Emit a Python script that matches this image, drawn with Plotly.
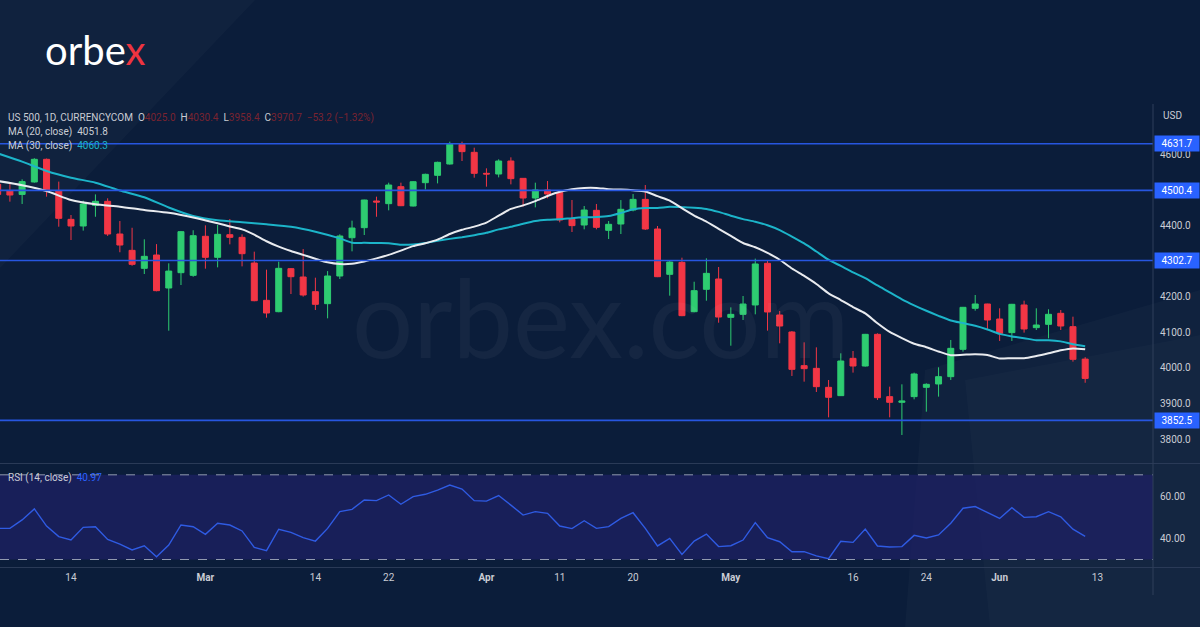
import plotly.graph_objects as go

W, H = 1200, 627

# ---------------- data ----------------
dates = [
    "2022-02-04", "2022-02-07", "2022-02-08", "2022-02-09", "2022-02-10", "2022-02-11",
    "2022-02-14", "2022-02-15", "2022-02-16", "2022-02-17", "2022-02-18",
    "2022-02-21", "2022-02-22", "2022-02-23", "2022-02-24", "2022-02-25", "2022-02-28",
    "2022-03-01", "2022-03-02", "2022-03-03", "2022-03-04",
    "2022-03-07", "2022-03-08", "2022-03-09", "2022-03-10", "2022-03-11",
    "2022-03-14", "2022-03-15", "2022-03-16", "2022-03-17", "2022-03-18",
    "2022-03-21", "2022-03-22", "2022-03-23", "2022-03-24", "2022-03-25",
    "2022-03-28", "2022-03-29", "2022-03-30", "2022-03-31",
    "2022-04-01", "2022-04-04", "2022-04-05", "2022-04-06", "2022-04-07", "2022-04-08",
    "2022-04-11", "2022-04-12", "2022-04-13", "2022-04-14",
    "2022-04-18", "2022-04-19", "2022-04-20", "2022-04-21", "2022-04-22",
    "2022-04-25", "2022-04-26", "2022-04-27", "2022-04-28", "2022-04-29",
    "2022-05-02", "2022-05-03", "2022-05-04", "2022-05-05", "2022-05-06",
    "2022-05-09", "2022-05-10", "2022-05-11", "2022-05-12", "2022-05-13",
    "2022-05-16", "2022-05-17", "2022-05-18", "2022-05-19", "2022-05-20",
    "2022-05-23", "2022-05-24", "2022-05-25", "2022-05-26", "2022-05-27",
    "2022-05-30", "2022-05-31",
    "2022-06-01", "2022-06-02", "2022-06-03",
    "2022-06-06", "2022-06-07", "2022-06-08", "2022-06-09", "2022-06-10",
]

opens = [4517.3, 4499.5, 4489.0, 4524.0, 4587.8, 4499.5, 4418.7, 4400.0, 4458.0, 4469.5,
         4377.4, 4331.4, 4280.7, 4318.3, 4225.3, 4268.5, 4261.0, 4371.0, 4311.7, 4375.5,
         4368.0, 4295.7, 4190.6, 4158.6, 4279.8, 4256.3, 4215.0, 4181.2, 4259.1, 4367.0,
         4395.3, 4470.4, 4462.9, 4510.8, 4456.3, 4522.0, 4542.7, 4574.6, 4630.0, 4607.5,
         4548.3, 4546.4, 4583.0, 4534.2, 4478.8, 4501.4, 4494.8, 4418.7, 4402.8, 4444.1,
         4387.8, 4405.6, 4445.0, 4475.0, 4391.5, 4263.8, 4297.6, 4158.6, 4221.6, 4250.7,
         4142.7, 4151.1, 4177.5, 4294.9, 4149.3, 4101.4, 4006.6, 3999.0, 3945.5, 3922.1,
         4027.2, 4005.6, 4094.8, 3919.3, 3903.3, 3919.3, 3945.5, 3955.0, 3975.6, 4052.6,
         4168.1, 4180.3, 4138.0, 4099.6, 4177.5, 4113.6, 4123.0, 4154.0, 4116.4, 4025.0]
highs = [4528.0, 4520.0, 4531.4, 4591.0, 4590.0, 4525.0, 4431.0, 4471.3, 4489.0, 4478.0,
         4414.0, 4395.0, 4362.4, 4349.0, 4294.8, 4386.0, 4388.0, 4401.8, 4402.8, 4419.7,
         4376.5, 4327.7, 4277.0, 4299.5, 4281.6, 4335.0, 4254.4, 4273.0, 4376.5, 4415.0,
         4474.0, 4482.6, 4522.0, 4522.0, 4526.7, 4547.4, 4581.2, 4637.5, 4637.5, 4620.6,
         4562.4, 4587.8, 4593.4, 4535.0, 4522.0, 4526.7, 4496.7, 4473.2, 4456.3, 4462.0,
         4414.0, 4473.0, 4490.0, 4515.4, 4400.0, 4301.4, 4310.7, 4243.0, 4308.9, 4284.5,
         4170.8, 4202.8, 4308.0, 4304.2, 4160.6, 4104.2, 4072.3, 4058.2, 3966.2, 4041.3,
         4047.9, 4096.0, 4097.7, 3947.4, 3954.0, 3986.9, 3956.8, 4001.9, 4078.9, 4172.0,
         4205.6, 4181.0, 4168.1, 4180.5, 4189.6, 4168.1, 4165.3, 4163.4, 4144.6, 4030.4]
lows = [4480.0, 4468.5, 4462.0, 4522.0, 4482.6, 4398.0, 4360.5, 4387.0, 4426.0, 4372.0,
        4326.0, 4288.0, 4264.7, 4216.0, 4105.1, 4233.7, 4257.0, 4279.8, 4283.5, 4348.3,
        4286.3, 4188.0, 4141.7, 4157.0, 4208.4, 4201.0, 4163.3, 4139.9, 4250.7, 4328.6,
        4374.6, 4426.0, 4444.1, 4456.0, 4455.0, 4503.0, 4520.0, 4573.0, 4583.0, 4536.1,
        4510.8, 4537.0, 4517.3, 4454.4, 4452.5, 4477.9, 4410.3, 4383.0, 4390.6, 4390.6,
        4363.3, 4377.4, 4441.3, 4388.7, 4256.0, 4203.7, 4146.0, 4157.0, 4189.6, 4127.6,
        4062.8, 4135.2, 4151.2, 4105.2, 4069.5, 3977.5, 3961.5, 3932.4, 3861.0, 3921.0,
        3986.9, 4004.0, 3909.9, 3861.0, 3811.3, 3911.7, 3877.0, 3919.3, 3966.2, 4046.0,
        4161.5, 4109.9, 4076.1, 4076.1, 4099.6, 4107.0, 4083.6, 4107.0, 4017.9, 3958.4]
closes = [4489.0, 4487.3, 4525.0, 4587.8, 4499.5, 4421.6, 4400.0, 4462.0, 4469.5, 4377.4,
          4346.4, 4292.0, 4314.5, 4217.8, 4273.0, 4384.0, 4372.7, 4311.7, 4376.5, 4368.0,
          4322.0, 4189.6, 4154.9, 4280.7, 4257.2, 4205.6, 4179.3, 4259.1, 4371.8, 4394.3,
          4473.2, 4467.5, 4515.4, 4457.2, 4524.8, 4545.5, 4579.3, 4630.0, 4609.4, 4548.3,
          4546.4, 4583.0, 4533.3, 4478.8, 4501.4, 4490.1, 4416.9, 4401.0, 4445.0, 4396.2,
          4404.7, 4447.0, 4475.0, 4391.5, 4257.2, 4298.5, 4147.4, 4217.8, 4266.6, 4143.6,
          4151.1, 4180.2, 4293.0, 4157.8, 4118.3, 3996.2, 3998.1, 3947.4, 3917.4, 4019.7,
          4005.6, 4094.8, 3916.4, 3903.3, 3907.1, 3983.1, 3954.0, 3975.6, 4055.4, 4170.9,
          4180.3, 4135.2, 4097.7, 4179.4, 4109.9, 4121.1, 4151.2, 4118.3, 4024.4, 3970.7]

rsi = [44.7, 44.7, 48.7, 53.9, 45.8, 40.8, 39.2, 45.2, 45.5, 39.5,
       37.3, 34.5, 36.5, 31.3, 36.8, 46.3, 45.5, 41.9, 47.1, 46.3,
       43.5, 35.7, 34.2, 44.3, 42.8, 40.3, 38.7, 44.7, 52.6, 53.7,
       58.1, 57.8, 60.5, 56.1, 59.7, 60.8, 62.8, 65.2, 63.3, 57.8,
       57.6, 60.2, 55.7, 51.0, 52.6, 51.8, 45.8, 44.6, 48.3, 44.7,
       45.5, 49.4, 52.1, 44.7, 36.4, 40.0, 32.4, 38.7, 42.0, 36.1,
       36.5, 39.2, 47.4, 40.3, 38.4, 33.7, 33.7, 31.7, 30.4, 38.6,
       38.1, 44.4, 36.4, 35.9, 36.1, 41.4, 40.2, 41.6, 47.1, 54.2,
       55.0, 52.1, 49.4, 54.5, 49.9, 50.2, 52.6, 50.2, 44.3, 40.97]

ma20_early_dates = ["2022-02-04", "2022-02-08", "2022-02-10", "2022-02-14", "2022-02-16",
                    "2022-02-18", "2022-02-22", "2022-02-24", "2022-02-28", "2022-03-02"]
ma20_early = [4526.7, 4515.0, 4498.5, 4473.0, 4461.0, 4454.4, 4445.0, 4437.0, 4424.0, 4407.5]
ma30_early_dates = ["2022-02-04", "2022-02-08", "2022-02-10", "2022-02-14", "2022-02-16",
                    "2022-02-18", "2022-02-22", "2022-02-24", "2022-02-28", "2022-03-02",
                    "2022-03-04", "2022-03-08", "2022-03-10", "2022-03-14", "2022-03-16"]
ma30_early = [4604.7, 4581.2, 4555.0, 4536.1, 4522.0, 4500.0, 4481.0, 4452.0, 4428.0, 4416.0,
              4410.3, 4404.6, 4398.0, 4384.0, 4365.2]

levels = [4631.7, 4500.4, 4302.7, 3852.5]
price_ticks = [3800, 3900, 4000, 4100, 4200, 4300, 4400, 4500, 4600]
rsi_ticks = [40, 60]
rsi_bands = [30, 70]
tick_dates = ["2022-02-14", "2022-03-01", "2022-03-14", "2022-03-22", "2022-04-01", "2022-04-11",
              "2022-04-20", "2022-05-02", "2022-05-16", "2022-05-24", "2022-06-01", "2022-06-13"]
tick_labels = ["14", "<b>Mar</b>", "14", "22", "<b>Apr</b>", "11", "20", "<b>May</b>", "16", "24",
               "<b>Jun</b>", "13"]

# ---------------- helpers ----------------
def pos(d):
    return dates.index(d) if d in dates else len(dates)

def px(x):
    return x / W

def py(y):
    return 1 - y / H

idx = list(range(len(dates)))

def sma(vals, n, start):
    out_x, out_y = [], []
    for i in range(start, len(vals)):
        out_x.append(i)
        out_y.append(sum(vals[i - n + 1:i + 1]) / n)
    return out_x, out_y

m20x, m20y = sma(closes, 20, 19)
m30x, m30y = sma(closes, 30, 29)
ma20_x = [pos(d) for d in ma20_early_dates] + m20x
ma20_y = ma20_early + m20y
ma30_x = [pos(d) for d in ma30_early_dates] + m30x
ma30_y = ma30_early + m30y

BG = "#0b1d3a"
GREEN = "#2ecc71"
RED = "#f23645"
BLUE = "#2962ff"
LINEBLUE = "#2756e0"
CYAN = "#1cb4c9"
TXT = "#c9ccd4"
FONT = "Roboto"

x_right_px = 1153
xr = [0.19, 94.55]

fig = go.Figure()

fig.add_trace(go.Candlestick(
    x=idx, open=opens, high=highs, low=lows, close=closes,
    increasing=dict(line=dict(color=GREEN, width=1), fillcolor=GREEN),
    decreasing=dict(line=dict(color=RED, width=1), fillcolor=RED),
    whiskerwidth=0, xaxis="x", yaxis="y", showlegend=False, hoverinfo="skip",
))
fig.add_trace(go.Scatter(x=ma30_x, y=ma30_y, mode="lines", line=dict(color=CYAN, width=2, shape="spline", smoothing=0.6),
                         xaxis="x", yaxis="y", showlegend=False, hoverinfo="skip"))
fig.add_trace(go.Scatter(x=ma20_x, y=ma20_y, mode="lines", line=dict(color="#e9ebef", width=2, shape="spline", smoothing=0.6),
                         xaxis="x", yaxis="y", showlegend=False, hoverinfo="skip"))
fig.add_trace(go.Scatter(x=idx, y=rsi, mode="lines", line=dict(color="#2f5be3", width=1.4),
                         xaxis="x2", yaxis="y2", showlegend=False, hoverinfo="skip"))

shapes = []
# decorative faint background polygons
shapes.append(dict(type="path", xref="paper", yref="paper", layer="below",
                   path=f"M 0 1 L {px(255)} 1 L 0 {py(268)} Z",
                   fillcolor="rgba(255,255,255,0.025)", line=dict(width=0)))
shapes.append(dict(type="path", xref="paper", yref="paper", layer="below",
                   path=f"M {px(925)} {py(370)} L 1 {py(290)} L 1 0 L {px(905)} 0 Z",
                   fillcolor="rgba(255,255,255,0.022)", line=dict(width=0)))
shapes.append(dict(type="path", xref="paper", yref="paper", layer="below",
                   path=f"M {px(965)} {py(380)} L 1 {py(335)} L 1 0 L {px(990)} 0 Z",
                   fillcolor="rgba(255,255,255,0.02)", line=dict(width=0)))
# RSI band
shapes.append(dict(type="rect", xref="x2 domain", yref="y2", x0=0, x1=1, y0=rsi_bands[0], y1=rsi_bands[1],
                   fillcolor="rgba(30,32,100,0.75)", line=dict(width=0), layer="below"))
for b in rsi_bands:
    shapes.append(dict(type="line", xref="x2 domain", yref="y2", x0=0, x1=1, y0=b, y1=b,
                       line=dict(color="rgba(200,205,220,0.7)", width=1, dash="dash")))
# level lines
for lv in levels:
    shapes.append(dict(type="line", xref="x domain", yref="y", x0=0, x1=1, y0=lv, y1=lv,
                       line=dict(color=LINEBLUE, width=1.6)))
# pane separators and price axis line
for yy in [463.5, 567.5]:
    shapes.append(dict(type="line", xref="paper", yref="paper", x0=0, x1=1, y0=py(yy), y1=py(yy),
                       line=dict(color="#2a3a57", width=1)))
shapes.append(dict(type="line", xref="paper", yref="paper", x0=px(x_right_px), x1=px(x_right_px),
                   y0=py(104), y1=py(595), line=dict(color="#2f3e5a", width=1)))

ann = []
# logo
ann.append(dict(xref="paper", yref="paper", x=px(43), y=py(50), xanchor="left", yanchor="middle",
                text="orbe<span style='color:#ee3440'>x</span>", showarrow=False,
                font=dict(family="Lato", size=40, color="white")))
# watermark
ann.append(dict(xref="paper", yref="paper", x=px(600), y=py(316), xanchor="center", yanchor="middle",
                text="orbex.com", showarrow=False,
                font=dict(family="Lato", size=108, color="rgba(255,255,255,0.045)")))
# legend lines
V = "#7a2330"
nb = "\u00a0"
ann.append(dict(xref="paper", yref="paper", x=px(6), y=py(118), xanchor="left", yanchor="middle",
                showarrow=False, font=dict(family=FONT, size=10, color=TXT),
                text=(f"US 500, 1D, CURRENCYCOM{nb}{nb}O<span style='color:{V}'>4025.0</span>{nb}{nb}"
                      f"H<span style='color:{V}'>4030.4</span>{nb}{nb}L<span style='color:{V}'>3958.4</span>{nb}{nb}"
                      f"C<span style='color:{V}'>3970.7</span>{nb}{nb}<span style='color:{V}'>−53.2 (−1.32%)</span>")))
ann.append(dict(xref="paper", yref="paper", x=px(6), y=py(132), xanchor="left", yanchor="middle",
                showarrow=False, font=dict(family=FONT, size=10, color=TXT),
                text=f"MA (20, close){nb}{nb}4051.8"))
ann.append(dict(xref="paper", yref="paper", x=px(6), y=py(146), xanchor="left", yanchor="middle",
                showarrow=False, font=dict(family=FONT, size=10, color=TXT),
                text=f"MA (30, close){nb}{nb}<span style='color:{CYAN}'>4060.3</span>"))
ann.append(dict(xref="paper", yref="paper", x=px(6), y=py(478), xanchor="left", yanchor="middle",
                showarrow=False, font=dict(family=FONT, size=10, color=TXT),
                text=f"RSI (14, close){nb}{nb}<span style='color:{BLUE}'>40.97</span>"))
ann.append(dict(xref="paper", yref="paper", x=px(1161), y=py(115), xanchor="left", yanchor="middle",
                showarrow=False, font=dict(family=FONT, size=10, color=TXT), text="USD"))
for lv in levels:
    ann.append(dict(xref="paper", yref="y", x=px(1154), y=lv, xanchor="left", yanchor="middle",
                    showarrow=False, text=f"{lv:.1f}", bgcolor=BLUE, borderpad=2,
                    font=dict(family=FONT, size=10, color="white"), width=40, align="center"))

fig.update_layout(
    width=W, height=H, paper_bgcolor=BG, plot_bgcolor="rgba(0,0,0,0)",
    margin=dict(l=0, r=0, t=0, b=0), showlegend=False,
    shapes=shapes, annotations=ann,
    xaxis=dict(domain=[0, px(x_right_px)], range=xr, anchor="y", showticklabels=False,
               showgrid=False, zeroline=False, rangeslider=dict(visible=False), fixedrange=True),
    xaxis2=dict(domain=[0, px(x_right_px)], range=xr, anchor="y2", matches="x",
                tickmode="array", tickvals=[pos(d) for d in tick_dates], ticktext=tick_labels,
                showgrid=False, zeroline=False, ticks="", ticklabelstandoff=2,
                tickfont=dict(family=FONT, size=10, color=TXT)),
    yaxis=dict(domain=[py(462), py(100)], range=[3735.2, 4754.9], side="right", anchor="x",
               tickmode="array", tickvals=price_ticks, ticktext=[f"{v:.1f}" for v in price_ticks],
               showgrid=False, zeroline=False, ticks="", ticklabelstandoff=6,
               tickfont=dict(family=FONT, size=10, color=TXT)),
    yaxis2=dict(domain=[py(568), py(465)], range=[25.99, 74.64], side="right", anchor="x2",
                tickmode="array", tickvals=rsi_ticks, ticktext=[f"{v:.2f}" for v in rsi_ticks],
                showgrid=False, zeroline=False, ticks="", ticklabelstandoff=6,
                tickfont=dict(family=FONT, size=10, color=TXT)),
)

fig.write_html("out.html", config={"displayModeBar": False},
               post_script="document.body.style.margin='0';document.body.style.overflow='hidden';")
